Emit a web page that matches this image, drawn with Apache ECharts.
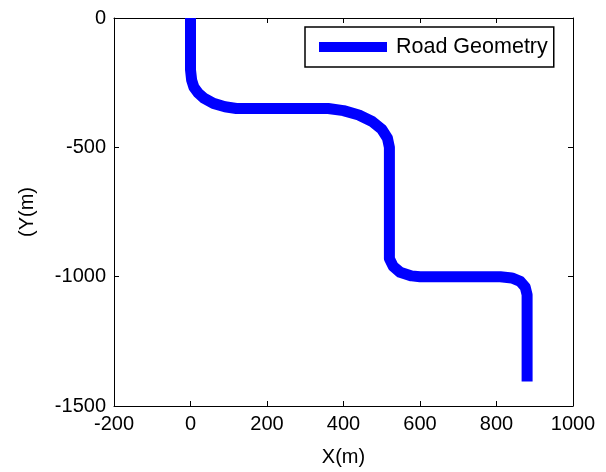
<!DOCTYPE html>
<html>
<head>
<meta charset="utf-8">
<script src="https://cdn.jsdelivr.net/npm/echarts@6/dist/echarts.min.js"></script>
<style>
  html, body { margin: 0; padding: 0; background: #fff; }
  #chart { width: 606px; height: 472px; }
</style>
</head>
<body>
<div id="chart"></div>
<script>
// road centre line
const roadX = [0, 0, 3, 9, 20, 35, 60, 90, 120, 360, 400, 440, 475, 500, 515, 520, 520, 530, 548, 578, 600, 810, 840, 862, 875, 880, 880]
const roadY = [0, -200, -240, -268, -290, -310, -330, -343, -350, -350, -358, -375, -400, -430, -465, -500, -930, -960, -983, -997, -1000, -1000, -1005, -1018, -1040, -1070, -1405]

const xTicks = [-200, 0, 200, 400, 600, 800, 1000]
const yTicks = [-1500, -1000, -500, 0]

const font = 'Liberation Sans, Arial, sans-serif'
const black = '#000'

const chart = echarts.init(document.getElementById('chart'))

const boxAxis = {
  type: 'value',
  axisLine: { show: true, onZero: false, lineStyle: { color: black, width: 1 } },
  axisTick: { show: true, inside: true, length: 5, lineStyle: { color: black } },
  axisLabel: { show: false },
  splitLine: { show: false },
}

chart.setOption({
  animation: false,
  grid: { left: 114, right: 33, top: 18, bottom: 59 },
  legend: {
    left: 305,
    top: 27,
    icon: 'rect',
    itemWidth: 68,
    itemHeight: 10,
    itemGap: 8,
    padding: [9, 6, 9, 14],
    backgroundColor: '#fff',
    borderColor: black,
    borderWidth: 1.5,
    borderRadius: 0,
    textStyle: { fontFamily: font, fontSize: 21.5, color: black, lineHeight: 22, padding: [0, 0, 0, 4] },
  },
  xAxis: [
    {
      type: 'value',
      min: xTicks[0],
      max: xTicks[xTicks.length - 1],
      interval: 200,
      name: 'X(m)',
      nameLocation: 'middle',
      nameGap: 41,
      nameTextStyle: { fontFamily: font, fontSize: 20, color: black },
      axisLine: { show: true, onZero: false, lineStyle: { color: black, width: 1 } },
      axisTick: { show: true, inside: true, length: 5, lineStyle: { color: black } },
      axisLabel: { fontFamily: font, fontSize: 20, color: black, margin: 8, formatter: v => String(v) },
      splitLine: { show: false },
    },
    Object.assign({}, boxAxis, {
      position: 'top',
      min: xTicks[0],
      max: xTicks[xTicks.length - 1],
      interval: 200,
    }),
  ],
  yAxis: [
    {
      type: 'value',
      min: yTicks[0],
      max: yTicks[yTicks.length - 1],
      interval: 500,
      name: '(Y(m)',
      nameLocation: 'middle',
      nameGap: 77,
      nameTextStyle: { fontFamily: font, fontSize: 20, color: black },
      axisLine: { show: true, onZero: false, lineStyle: { color: black, width: 1 } },
      axisTick: { show: true, inside: true, length: 5, lineStyle: { color: black } },
      axisLabel: { fontFamily: font, fontSize: 20, color: black, margin: 8, formatter: v => String(v) },
      splitLine: { show: false },
    },
    Object.assign({}, boxAxis, {
      position: 'right',
      min: yTicks[0],
      max: yTicks[yTicks.length - 1],
      interval: 500,
    }),
  ],
  series: [
    {
      name: 'Road Geometry',
      type: 'line',
      data: roadX.map((x, i) => [x, roadY[i]]),
      showSymbol: false,
      symbol: 'none',
      lineStyle: { color: '#0000ff', width: 11, join: 'round', cap: 'butt' },
      itemStyle: { color: '#0000ff' },
    },
  ],
})
</script>
</body>
</html>
